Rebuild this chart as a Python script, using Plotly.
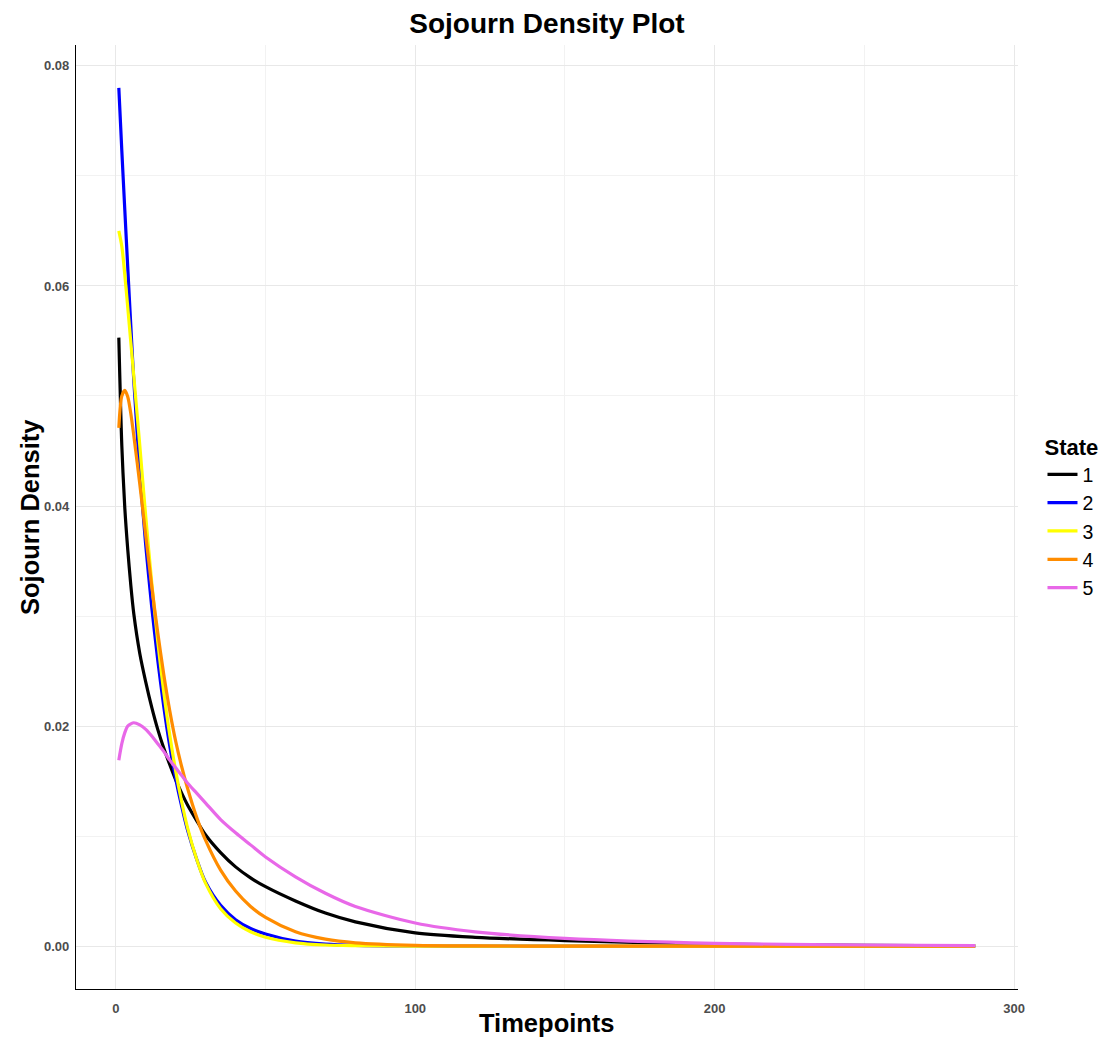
import plotly.graph_objects as go

# Data
timepoints = [1, 2, 3, 4, 5, 6, 8, 10, 12, 14, 16, 18, 20, 22, 24, 27, 30, 35, 40, 45,
              50, 60, 70, 80, 100, 120, 150, 200, 250, 287]

state1 = [0.0553, 0.0455, 0.0398, 0.0360, 0.0328, 0.0302, 0.0266, 0.0240, 0.0217, 0.0197,
          0.0180, 0.0165, 0.0151, 0.0139, 0.0128, 0.0114, 0.0101, 0.0085, 0.0072, 0.0062,
          0.0054, 0.0041, 0.0030, 0.0022, 0.0012, 0.0008, 0.0005, 0.00018, 0.00006, 0.00002]
state2 = [0.0780, 0.0723, 0.0669, 0.0616, 0.0564, 0.0514, 0.0432, 0.0364, 0.0308, 0.0260,
          0.0218, 0.0182, 0.0152, 0.0127, 0.0105, 0.0079, 0.0058, 0.0037, 0.0024, 0.0016,
          0.0011, 0.00045, 0.00018, 0.00007, 0.00001, 0.0, 0.0, 0.0, 0.0, 0.0]
state3 = [0.0650, 0.0636, 0.0610, 0.0580, 0.0549, 0.0518, 0.0455, 0.0390, 0.0330, 0.0277,
          0.0231, 0.0192, 0.0159, 0.0131, 0.0107, 0.0079, 0.0057, 0.0034, 0.0021, 0.0013,
          0.0008, 0.0003, 0.0001, 0.00004, 0.0, 0.0, 0.0, 0.0, 0.0, 0.0]
state4 = [0.0471, 0.0500, 0.0505, 0.0499, 0.0484, 0.0464, 0.0420, 0.0373, 0.0327, 0.0285,
          0.0247, 0.0214, 0.0186, 0.0163, 0.0143, 0.0117, 0.0096, 0.0069, 0.0050, 0.0036,
          0.0026, 0.0013, 0.00063, 0.0003, 0.00007, 0.00002, 0.0, 0.0, 0.0, 0.0]
state5 = [0.0169, 0.0184, 0.0194, 0.0200, 0.0202, 0.0203, 0.0201, 0.0197, 0.0191, 0.0184,
          0.0177, 0.0169, 0.0162, 0.0155, 0.0148, 0.0139, 0.0130, 0.0115, 0.0103, 0.0092,
          0.0081, 0.0063, 0.0048, 0.0036, 0.0021, 0.0013, 0.0007, 0.00025, 0.0001, 0.00005]

state_names = ["1", "2", "3", "4", "5"]
state_colors = ["#000000", "#0000FF", "#FFFF00", "#FF8C00", "#E868E8"]
series = [state1, state2, state3, state4, state5]

x_ticks = [0, 100, 200, 300]
y_ticks = [0.00, 0.02, 0.04, 0.06, 0.08]

FONT = "Liberation Sans, Arial, Helvetica, sans-serif"

# Plot area at x 76..1018, y 45..989 in the 1106x1041 window (body margin removed).
W, H = 1106, 1041
ML, MT = 76, 45
PW, PH = 942, 944

fig = go.Figure()
for name, vals, col in zip(state_names, series, state_colors):
    fig.add_trace(go.Scatter(
        x=timepoints, y=vals, mode="lines", name=name,
        line=dict(color=col, width=3.2, shape="spline", smoothing=0.8),
    ))

fig.update_layout(
    width=W, height=H,
    paper_bgcolor="white", plot_bgcolor="white",
    margin=dict(l=ML, r=W - ML - PW, t=MT, b=H - MT - PH, autoexpand=False),
    font=dict(family=FONT, color="black"),
    title=dict(text="<b>Sojourn Density Plot</b>", x=0.5, xref="paper", xanchor="center",
               y=1 - 23 / H, yref="container", yanchor="middle",
               font=dict(size=28, family=FONT, color="black")),
    legend=dict(
        title=dict(text="<b>State</b>", font=dict(size=22, family=FONT, color="black")),
        font=dict(size=19.5, family=FONT, color="black"),
        x=1.026, xanchor="left", y=0.5, yanchor="middle",
        bgcolor="rgba(0,0,0,0)", tracegroupgap=0, itemwidth=30,
    ),
    xaxis=dict(
        range=[-13.3, 301.3], tickvals=x_ticks, ticktext=[str(v) for v in x_ticks],
        showline=True, linecolor="black", linewidth=1.2, mirror=False,
        showgrid=True, gridcolor="#E8E8E8", gridwidth=1.4,
        minor=dict(dtick=50, tick0=0, showgrid=True, gridcolor="#F2F2F2", gridwidth=1),
        zeroline=False, ticks="", automargin=False, ticklabelstandoff=7,
        tickfont=dict(size=13, family=FONT, color="#4D4D4D", weight="bold"),
    ),
    yaxis=dict(
        range=[-0.0039, 0.0819], tickvals=y_ticks, ticktext=[f"{v:.2f}" for v in y_ticks],
        showline=True, linecolor="black", linewidth=1.2, mirror=False,
        showgrid=True, gridcolor="#E8E8E8", gridwidth=1.4,
        minor=dict(dtick=0.01, tick0=0, showgrid=True, gridcolor="#F2F2F2", gridwidth=1),
        zeroline=False, ticks="", automargin=False, ticklabelstandoff=3,
        tickfont=dict(size=13, family=FONT, color="#4D4D4D", weight="bold"),
    ),
    annotations=[
        dict(text="<b>Sojourn Density</b>", textangle=-90,
             xref="paper", yref="paper", x=(30 - 76) / PW, y=0.5,
             xanchor="center", yanchor="middle", showarrow=False,
             font=dict(size=25.5, family=FONT, color="black")),
        dict(text="<b>Timepoints</b>",
             xref="paper", yref="paper", x=0.5, y=-(1023 - 989) / PH,
             xanchor="center", yanchor="middle", showarrow=False,
             font=dict(size=25.5, family=FONT, color="black")),
    ],
)

fig.write_html(
    "out.html",
    config={"displayModeBar": False},
    post_script="document.body.style.margin='0';document.body.style.overflow='hidden';",
)
